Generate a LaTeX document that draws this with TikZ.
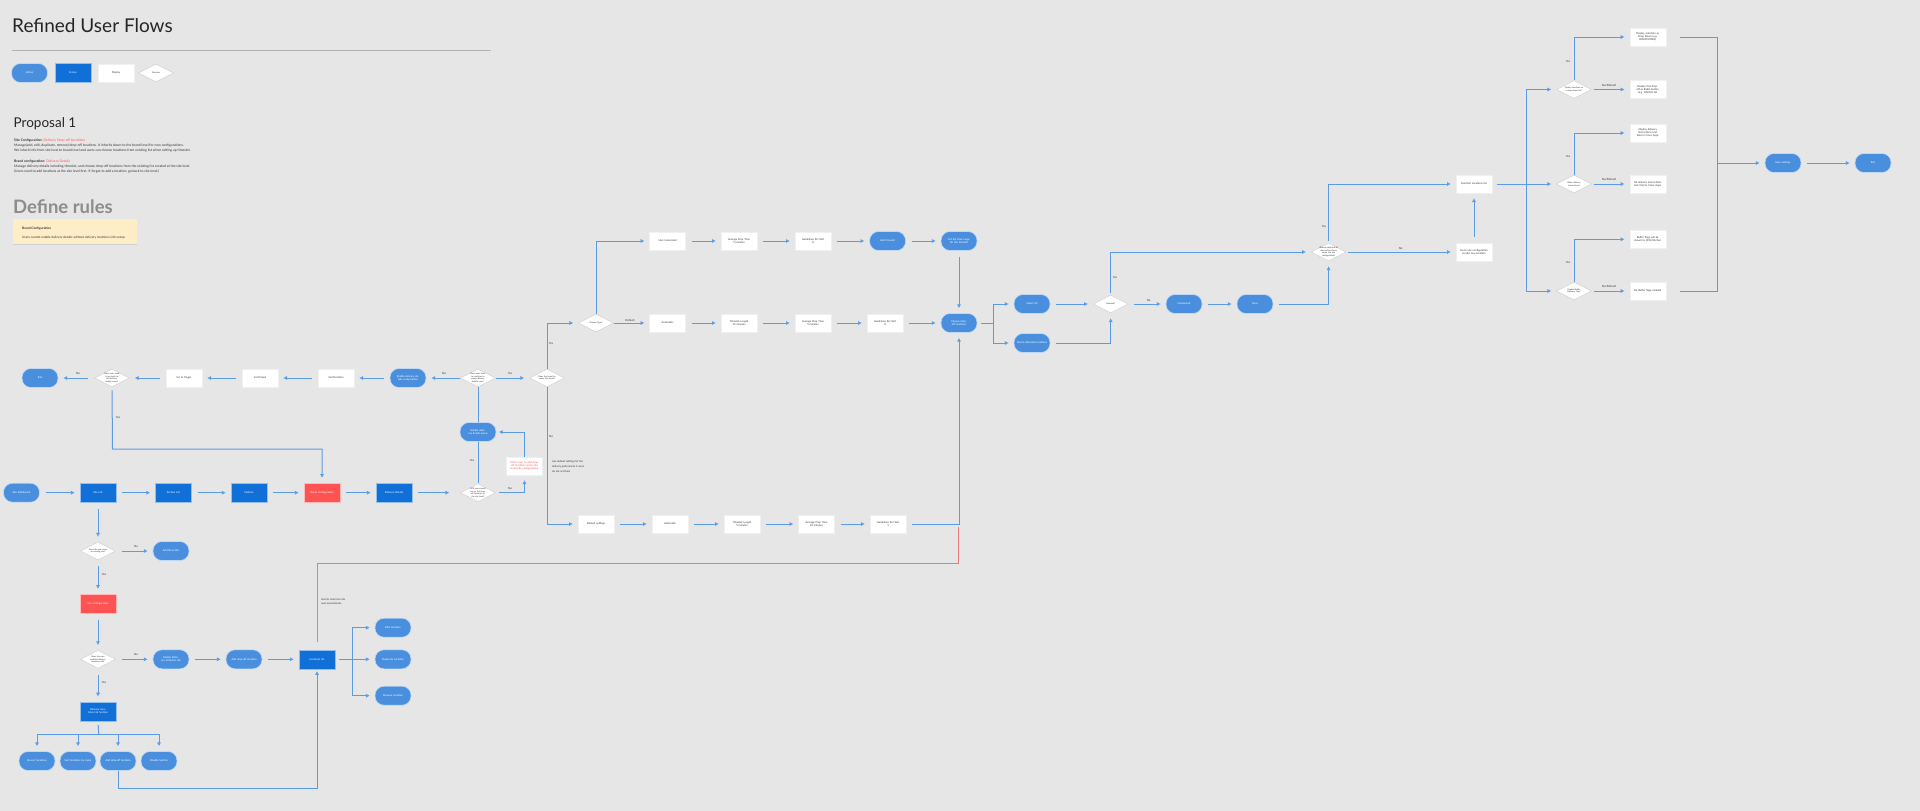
\documentclass[tikz,border=0pt]{standalone}
\usepackage{fontspec}
\setmainfont{Lato}
\usetikzlibrary{shapes.geometric,arrows.meta}
\definecolor{bgc}{HTML}{E6E6E6}
\definecolor{actblue}{HTML}{4A8FDD}
\definecolor{scrblue}{HTML}{1170D8}
\definecolor{redc}{HTML}{FF5252}
\definecolor{arrc}{HTML}{5C9CE6}
\definecolor{txtdark}{HTML}{333333}
\definecolor{yelc}{HTML}{FFEDC8}
\definecolor{redline}{HTML}{F07A7A}
\newcommand\tinyfnt{\fontsize{2.6}{3.1}\selectfont}
\newcommand\decfnt{\fontsize{2.1}{2.5}\selectfont}
\newcommand\lblfnt{\fontsize{2.8}{3.2}\selectfont}
\newcommand\infofnt{\fontsize{3.4}{4}\selectfont}
\begin{document}
\begin{tikzpicture}[x=1pt,y=-1pt,
  base/.style={inner sep=0.5pt, font=\tinyfnt, align=center, text width=30pt, minimum width=36pt, minimum height=19pt},
  action/.style={base, rectangle, rounded corners=9pt, fill=actblue, draw=white!65!actblue, line width=0.6pt, text=white},
  screen/.style={base, rectangle, fill=scrblue, draw=white!55!scrblue, line width=0.6pt, text=white},
  redscr/.style={screen, fill=redc, draw=white!60!redc},
  display/.style={base, rectangle, fill=white, draw=gray!12, line width=0.4pt, text=txtdark, minimum height=18pt},
  dtext/.style={font=\decfnt, align=center, text width=19pt, text=txtdark, inner sep=0pt},
  decision/.style={diamond, aspect=2, minimum width=35pt, minimum height=18pt, inner sep=0pt, fill=white, draw=gray!35, line width=0.5pt, label={[dtext]center:{#1}}},
  flow/.style={draw=arrc, line width=1pt, -{Latex[length=3.8pt,width=4.2pt]}, shorten <=6pt, shorten >=5pt},
  flowz/.style={draw=arrc, line width=1pt, -{Latex[length=3.8pt,width=4.2pt]}, shorten >=5pt},
  conn/.style={draw=arrc, line width=1pt},
  lbl/.style={font=\lblfnt, text=txtdark, inner sep=0pt},
  info/.style={font=\infofnt, text=txtdark, inner sep=0pt, anchor=base west},
]
\useasboundingbox (0,0) rectangle (1920,811);
\fill[bgc] (0,0) rectangle (1920,811);

% ---------- header ----------
\node[anchor=base west, inner sep=0pt, font=\fontsize{19}{23}\selectfont, text=black!85] (title) at (12,32) {Refined User Flows};
\draw[gray!60, line width=0.9pt] (12,50.7) -- (491,50.7);

\node[action] (lgA) at (29.5,73) {Action};
\node[screen] (lgS) at (73,73) {Screen};
\node[display] (lgD) at (116,73) {Display};
\node[decision={Decision}] (lgDec) at (156,73) {};

\node[anchor=base west, inner sep=0pt, font=\fontsize{13.5}{16}\selectfont, text=black!85] (prop) at (13.5,127.3) {Proposal 1};
\node[info] (i1) at (14,141.8) {\textbf{Site Configuration:} \textcolor{redc}{Delivery Drop-off Locations}};
\node[info] (i2) at (14,146.8) {Manage(add, edit, duplicate, remove) drop-off locations. It inherits down to the brand level for new configurations.};
\node[info] (i3) at (14,151.8) {We inherit info from site level to brand level and users can choose locations from existing list when setting up timeslot.};
\node[info] (i4) at (14,162.1) {\textbf{Brand configuration:} \textcolor{redc}{Delivery Details}};
\node[info] (i5) at (14,167.1) {Manage delivery details including timeslot, and choose drop-off locations from the existing list created at the site level.};
\node[info] (i6) at (14,172.4) {(Users need to add locations at the site level first. If forgot to add a location, go back to site level.)};

\node[anchor=base west, inner sep=0pt, font=\fontsize{18.5}{22}\bfseries\selectfont, text=black!45] (rules) at (13,213.3) {Define rules};
\fill[black!18] (12.7,220) rectangle (136.7,245.2);
\fill[yelc] (12.7,219) rectangle (136.7,244);
\node[info, font=\fontsize{3.2}{4}\bfseries\selectfont] (y1) at (22,229) {Brand Configuration};
\node[info, font=\fontsize{3.2}{4}\selectfont] (y2) at (22,238.5) {Users cannot enable delivery details without delivery locations info setup.};

% ---------- main row ----------
\node[action] (pSiteDash) at (21.5,492.7) {Site Dashboard};
\node[screen] (sSiteList) at (98,492.7) {Site List};
\node[screen] (sSectionList) at (173.5,492.7) {Section List};
\node[screen] (sStations) at (249,492.7) {Stations};
\node[redscr] (sBrand) at (322,492.7) {Brand Configuration};
\node[screen] (sDelivery) at (394,492.7) {Delivery Details};
\node[decision={Will user should set up the drop-off locations at the site level?}] (dWill) at (478,492.7) {};

% ---------- top-left row ----------
\node[action] (nEnd) at (40,378) {End};
\node[decision={Does user need to go back to the delivery details setup?}] (dExit) at (112,378) {};
\node[display] (rPlugin) at (184,378) {Go to Plugin};
\node[display] (rConfirmed) at (260,378) {Confirmed};
\node[display] (rConfirmation) at (336,378) {Confirmation};
\node[action] (pEnableLater) at (408,378) {Enable delivery details setup button};
\node[decision={Does user want to continue to setup delivery details now?}] (dContinue) at (478,378) {};
\node[decision={Does that need to setup this brand?}] (dSetup) at (547,378) {};
\node[action] (pEnableSetup) at (478,432) {Enable delivery details setup};
\node[display, text=redc] (rInform) at (524.5,466) {Inform user to add drop-off locations under site level (Site configuration)};

% ---------- left column ----------
\node[decision={Does the user have an existing site?}] (dExisting) at (98,551) {};
\node[action] (pAddSite) at (171,551) {Add New Site};
\node[redscr] (sSiteConf) at (98,603.7) {Site Configuration};
\node[decision={Does the user enabled delivery locations tab?}] (dHasLoc) at (98,659.3) {};
\node[action] (pEnableLoc) at (171,659.3) {Enable Delivery locations tab};
\node[action] (pAddDrop) at (244,659.3) {Add drop-off location};
\node[screen] (sLocList) at (317,659.3) {Locations list};
\node[screen] (sLocTab) at (98,711.3) {Delivery locations tab Section};
\node[action] (pResort) at (37,761) {Re-sort locations};
\node[action] (pSort) at (78,761) {Sort locations by name};
\node[action] (pAddDrop2) at (118,761) {Add drop-off location};
\node[action] (pDisable) at (159,761) {Disable Section};
\node[action] (pEdit) at (393,627.7) {Edit Location};
\node[action] (pDup) at (393,659.3) {Duplicate Location};
\node[action] (pRemove) at (393,695.7) {Remove Location};

% ---------- middle ----------
\node[decision={Choose Type?}] (dType) at (596,323) {};
\node[display] (r1a) at (667.6,241) {User Generated};
\node[display] (r1b) at (739,241) {Average Prep Time\\5 minutes};
\node[display] (r1c) at (813,241) {Guidelines Per Slot\\8};
\node[action] (p1d) at (887.6,241) {Add timeslot};
\node[action] (p1e) at (959,241) {Set the time range for the timeslot};
\node[display] (r2a) at (667.6,323) {Automatic};
\node[display] (r2b) at (739,323) {Timeslot Length\\15 minutes};
\node[display] (r2c) at (813,323) {Average Prep Time\\5 minutes};
\node[display] (r2d) at (885,323) {Guidelines Per Slot\\8};
\node[action] (pChoose) at (959,323) {Choose drop-off locations};
\node[display] (r3a) at (596,524) {Default settings};
\node[display] (r3b) at (670,524) {Automatic};
\node[display] (r3c) at (742,524) {Timeslot Length\\5 minutes};
\node[display] (r3d) at (816.5,524) {Average Prep Time\\10 minutes};
\node[display] (r3e) at (888,524) {Guidelines Per Slot\\1};
\node[info, font=\fontsize{2.6}{3}\selectfont] (n1) at (552,462) {Use default settings for the};
\node[info, font=\fontsize{2.6}{3}\selectfont] (n2) at (552,467) {delivery preferences if users};
\node[info, font=\fontsize{2.6}{3}\selectfont] (n3) at (552,472) {do not set them};
\node[info, font=\fontsize{2.5}{3}\selectfont] (n4) at (321,600.5) {Inherits data from site};
\node[info, font=\fontsize{2.5}{3}\selectfont] (n5) at (321,604) {level automatically};

% ---------- right ----------
\node[action] (pSelAll) at (1032,304) {Select All};
\node[action] (pSelInd) at (1032,343) {Select individual locations};
\node[decision={Selected?}] (dSelected) at (1110.7,304) {};
\node[action] (pUnsel) at (1184,304) {Unselected};
\node[action] (pNext) at (1255,304) {Next};
\node[decision={Already selected all drop-off locations under the site configuration?}] (dAll) at (1328.6,252) {};
\node[display] (rSelList) at (1474,184) {Selected Locations list};
\node[display] (rGoSite) at (1474,252) {Go to site configuration to add new location};
\node[decision={Display locations as a drop-down list?}] (dDropdown) at (1574,89.5) {};
\node[decision={Allow delivery instructions?}] (dInstr) at (1574,184) {};
\node[decision={Enable Buffer Delivery Flag?}] (dBuffer) at (1574,291) {};
\node[display] (rD1) at (1647.7,37) {Display selection as Drop Down (e.g. DROPDOWN)};
\node[display] (rD2) at (1647.7,89.5) {Display first drop-off as Radio button (e.g. RADIO) list};
\node[display] (rI1) at (1647.7,133) {Display delivery instructions text field in Cross Apps};
\node[display] (rI2) at (1647.7,184) {No delivery instructions text field in Cross Apps};
\node[display] (rB1) at (1647.7,239.3) {Buffer flags will be shown to KDS/Kitchen};
\node[display] (rB2) at (1647.7,291) {No Buffer flags enabled};
\node[action] (pSave) at (1783,163) {Save settings};
\node[action] (pExit) at (1873,163) {Exit};

% ---------- connectors: main row ----------
\draw[flow] (pSiteDash) -- (sSiteList);
\draw[flow] (sSiteList) -- (sSectionList);
\draw[flow] (sSectionList) -- (sStations);
\draw[flow] (sStations) -- (sBrand);
\draw[flow] (sBrand) -- (sDelivery);
\draw[flow, shorten >=11pt] (sDelivery) -- (dWill);

\draw[conn] (dWill.north) -- (pEnableSetup.south);
\node[lbl] (lYes1) at (472,461) {Yes};
\draw[flow, shorten <=3pt] (dWill.east) -| (rInform.south);
\node[lbl] (lNo1) at (510,489) {No};
\draw[flow, shorten <=0pt, shorten >=2.5pt] (rInform.north) |- (pEnableSetup.east);
\draw[conn] (pEnableSetup.north) -- (dContinue.south);

\draw[flow, shorten <=0pt] (dContinue) -- (pEnableLater);
\node[lbl] (lNo2) at (444,374) {No};
\draw[flow, shorten <=0pt] (dContinue) -- (dSetup);
\node[lbl] (lYes2) at (510,374) {Yes};
\draw[flow] (pEnableLater) -- (rConfirmation);
\draw[flow] (rConfirmation) -- (rConfirmed);
\draw[flow] (rConfirmed) -- (rPlugin);
\draw[flow] (rPlugin) -- (dExit);
\draw[flow] (dExit) -- (nEnd);
\node[lbl] (lNo3) at (78,374) {No};
\draw[flow, shorten <=3pt] (dExit.south) -- (112.5,449) -| (sBrand.north);
\node[lbl] (lYes3) at (118,417.7) {Yes};

% ---------- connectors: left column ----------
\draw[flow] (sSiteList) -- (dExisting);
\draw[flow] (dExisting) -- (pAddSite);
\node[lbl] (lNo4) at (136,546.5) {No};
\draw[flow] (dExisting) -- (sSiteConf);
\node[lbl] (lYes4) at (104,575) {Yes};
\draw[flow] (sSiteConf) -- (dHasLoc);
\draw[flow] (dHasLoc) -- (pEnableLoc);
\node[lbl] (lNo5) at (136,654.5) {No};
\draw[flow] (pEnableLoc) -- (pAddDrop);
\draw[flow] (pAddDrop) -- (sLocList);
\draw[flow] (dHasLoc) -- (sLocTab);
\node[lbl] (lYes5) at (104,683) {Yes};

\coordinate (br1) at (98.7,734);
\draw[conn, shorten <=4pt] (sLocTab.south) -- (br1);
\draw[flowz] (br1) -| (pResort.north);
\draw[flowz] (br1) -| (pSort.north);
\draw[flowz] (br1) -| (pAddDrop2.north);
\draw[flowz] (br1) -| (pDisable.north);
\draw[flow, shorten <=0pt, shorten >=2pt] (pAddDrop2.south) -- (118,788) -| (sLocList.south);

\coordinate (br2) at (352,659.3);
\draw[conn, shorten <=4pt] (sLocList.east) -- (br2);
\draw[flowz] (br2) |- (pEdit.west);
\draw[flowz] (br2) -- (pDup.west);
\draw[flowz] (br2) |- (pRemove.west);

\coordinate (redEnd) at (958.7,527);
\draw[redline, line width=0.9pt, shorten <=8pt] (sLocList.north) |- (958.7,563) -- (redEnd);

% ---------- connectors: middle ----------
\draw[flow, shorten <=0pt] (dSetup.north) |- (dType.west);
\node[lbl] (lYes6) at (551,344) {Yes};
\draw[flow, shorten <=0pt] (dType.north) |- (r1a.west);
\draw[flow, shorten <=0pt] (dType) -- (r2a);
\node[lbl] (lDef) at (630,320) {Default};
\draw[flow, shorten <=0pt] (dSetup.south) |- (r3a.west);
\node[lbl] (lNo6) at (551,437) {No};

\draw[flow] (r1a) -- (r1b);
\draw[flow] (r1b) -- (r1c);
\draw[flow] (r1c) -- (p1d);
\draw[flow] (p1d) -- (p1e);
\draw[flow] (p1e) -- (pChoose);
\draw[flow] (r2a) -- (r2b);
\draw[flow] (r2b) -- (r2c);
\draw[flow] (r2c) -- (r2d);
\draw[flow] (r2d) -- (pChoose);
\draw[flow] (r3a) -- (r3b);
\draw[flow] (r3b) -- (r3c);
\draw[flow] (r3c) -- (r3d);
\draw[flow] (r3d) -- (r3e);
\draw[flow] (r3e.east) -| (pChoose.south);

% ---------- connectors: right ----------
\coordinate (br3) at (993,323);
\draw[conn, shorten <=4pt] (pChoose.east) -- (br3);
\draw[flowz] (br3) |- (pSelAll.west);
\draw[flowz] (br3) |- (pSelInd.west);
\draw[flow] (pSelAll) -- (dSelected);
\draw[flow] (pSelInd.east) -| (dSelected.south);
\draw[flow] (dSelected) -- (pUnsel);
\node[lbl] (lNo7) at (1148.6,301) {No};
\draw[flow] (pUnsel) -- (pNext);
\draw[flow] (pNext.east) -| (dAll.south);
\draw[flow, shorten <=2pt] (dSelected.north) |- (dAll.west);
\node[lbl] (lYes7) at (1115,278) {Yes};
\draw[flow, shorten <=2pt] (dAll.north) |- (rSelList.west);
\node[lbl] (lYes8) at (1324,227) {Yes};
\draw[flow, shorten <=2pt] (dAll) -- (rGoSite);
\node[lbl] (lNo8) at (1400.7,249) {No};
\draw[flow] (rGoSite) -- (rSelList);

\coordinate (br4) at (1526,184);
\draw[conn, shorten <=5pt] (rSelList.east) -- (br4);
\draw[flowz] (br4) |- (dDropdown.west);
\draw[flowz] (br4) -- (dInstr.west);
\draw[flowz] (br4) |- (dBuffer.west);

\draw[flow, shorten <=0pt] (dDropdown.north) |- (rD1.west);
\node[lbl] (lYes9) at (1568,62) {Yes};
\draw[flow, shorten <=2pt] (dDropdown) -- (rD2);
\node[lbl] (lNo9) at (1609,85.5) {No/Default};
\draw[flow, shorten <=0pt] (dInstr.north) |- (rI1.west);
\node[lbl] (lYes10) at (1568,156.7) {Yes};
\draw[flow, shorten <=2pt] (dInstr) -- (rI2);
\node[lbl] (lNo10) at (1609,180) {No/Default};
\draw[flow, shorten <=0pt] (dBuffer.north) |- (rB1.west);
\node[lbl] (lYes11) at (1568,263) {Yes};
\draw[flow, shorten <=2pt] (dBuffer) -- (rB2);
\node[lbl] (lNo11) at (1609,287) {No/Default};

\coordinate (col) at (1717.3,163);
\draw[conn, shorten <=14pt, shorten >=14pt] (rD1.east) -- (1717.3,37) -- (1717.3,291) -- (rB2.east);
\draw[flowz] (col) -- (pSave.west);
\draw[flow] (pSave) -- (pExit);
\end{tikzpicture}
\end{document}
